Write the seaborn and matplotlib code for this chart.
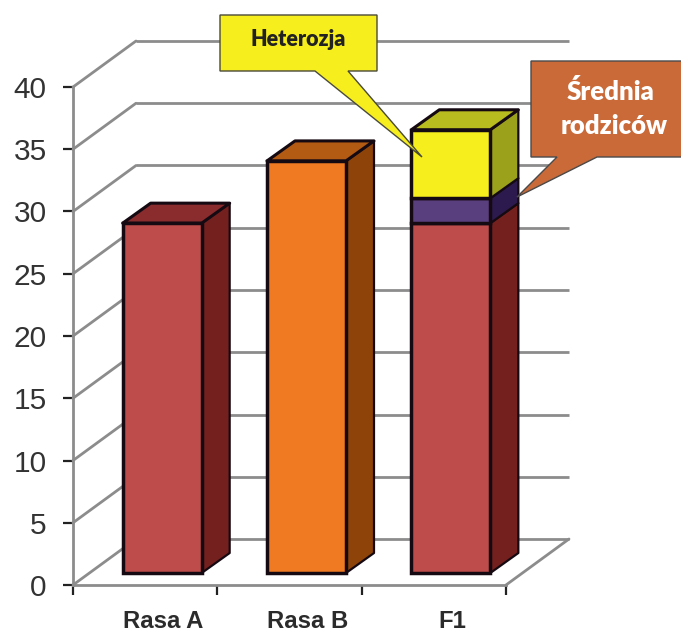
import numpy as np
import matplotlib
matplotlib.use("Agg")
import matplotlib.pyplot as plt
import matplotlib.transforms as mtrans
from matplotlib.patches import Polygon
import seaborn as sns

categories = ["Rasa A", "Rasa B", "F1"]
base_values = [28.1, 33.1, 28.1]
mean_category = ["F1"]
mean_extra = [2.0]
hetero_category = ["F1"]
hetero_extra = [5.5]
y_ticks = [0, 5, 10, 15, 20, 25, 30, 35, 40]

W, H = 681, 633
AX_L, AX_R, AX_TOP, AX_BOT = 73, 506, 87, 585
PX_X = 3 / (AX_R - AX_L)
PX_Y = 40 / (AX_BOT - AX_TOP)

GRID = "#8c8c8c"
EDGE = "#160a12"
# front, side, top
RED = ("#BD4C4B", "#74201F", "#8A2C2E")
ORANGE = ("#EF7A22", "#8E4409", "#B35B12")
PURPLE = ("#5A3F7E", "#2C1A4E", "#2C1A4E")
YELLOW = ("#F7EE1E", "#9BA11B", "#B9BC1E")

sns.set_theme(style="white")
plt.rcParams["font.family"] = ["Liberation Sans", "DejaVu Sans"]

fig = plt.figure(figsize=(W / 100, H / 100), dpi=100)
ax = fig.add_axes([AX_L / W, 1 - AX_BOT / H, (AX_R - AX_L) / W, (AX_BOT - AX_TOP) / H])

bar_kws = dict(width=79 * PX_X, errorbar=None, saturation=1, edgecolor=EDGE,
               linewidth=2.5, legend=False, order=categories, zorder=3)


def add_bars(x, y, faces, bottom=0):
    n = len(ax.patches)
    sns.barplot(x=x, y=y, hue=x, palette=dict(zip(x, [f[0] for f in faces])),
                bottom=bottom, ax=ax, **bar_kws)
    return list(zip(ax.patches[n:], faces))


segments = add_bars(categories, base_values, [RED, ORANGE, RED])
segments += add_bars(mean_category, mean_extra, [PURPLE], bottom=base_values[2])
segments += add_bars(hetero_category, hetero_extra, [YELLOW],
                     bottom=base_values[2] + mean_extra[0])

ax.set_xlim(-0.5, 2.5)
ax.set_ylim(0, 40)

# everything in the 3d look is the flat chart moved by some pixels
bar_shift = mtrans.offset_copy(ax.transData, fig, x=17, y=12, units="dots")
wall_shift = mtrans.offset_copy(ax.transData, fig, x=63, y=46, units="dots")

dx, dy = 28 * PX_X, 20 * PX_Y
for bar, (front, side, top) in segments:
    x0, x1 = bar.get_x(), bar.get_x() + bar.get_width()
    y0, y1 = bar.get_y(), bar.get_y() + bar.get_height()
    bar.set_transform(bar_shift)
    ax.add_patch(Polygon([(x1, y0), (x1 + dx, y0 + dy), (x1 + dx, y1 + dy), (x1, y1)],
                         closed=True, fc=side, ec=EDGE, lw=1.6, zorder=2.9,
                         transform=bar_shift, clip_on=False, joinstyle="round"))
    if y1 >= max(base_values[:2]) or bar.get_x() < 1.5:
        ax.add_patch(Polygon([(x0, y1), (x0 + dx, y1 + dy), (x1 + dx, y1 + dy), (x1, y1)],
                             closed=True, fc=top, ec=EDGE, lw=2.2, zorder=2.9,
                             transform=bar_shift, clip_on=False, joinstyle="round"))

# back wall lines and the side wall diagonals
for v in y_ticks:
    ax.plot([-0.5, 2.5], [v, v], color=GRID, lw=2, transform=wall_shift,
            clip_on=False, zorder=1, solid_capstyle="butt")
    p0 = ax.transData.transform((-0.5, v))
    p1 = wall_shift.transform((-0.5, v))
    q0, q1 = ax.transData.inverted().transform([p0, p1])
    ax.plot([q0[0], q1[0]], [q0[1], q1[1]], color=GRID, lw=2, clip_on=False, zorder=1)
p0 = ax.transData.transform((2.5, 0))
p1 = wall_shift.transform((2.5, 0))
q0, q1 = ax.transData.inverted().transform([p0, p1])
ax.plot([q0[0], q1[0]], [q0[1], q1[1]], color=GRID, lw=2, clip_on=False, zorder=1)

sns.despine(ax=ax, top=True, right=True)
for s in ["left", "bottom"]:
    ax.spines[s].set_color(GRID)
    ax.spines[s].set_linewidth(2)

ax.set_yticks(y_ticks)
ax.set_xticks([-0.5, 0.5, 1.5, 2.5])
ax.set_xticklabels([])
ax.set_xlabel("")
ax.set_ylabel("")
ax.tick_params(axis="y", left=True, length=7, width=1.6, color="#222222",
               labelsize=21.5, labelcolor="#333333", pad=12)
ax.tick_params(axis="x", bottom=True, length=7, width=1.6, color="#222222")

for i, name in enumerate(categories):
    ax.annotate(name, xy=(i, 0), xytext=(18, -37), textcoords="offset pixels",
                ha="center", va="center", fontsize=17.2, fontweight="bold",
                color="#2b2b2b", annotation_clip=False)

# callouts sit on top of the chart in image pixels
over = fig.add_axes([0, 0, 1, 1], facecolor="none")
over.set_xlim(0, W)
over.set_ylim(H, 0)
over.axis("off")

over.add_patch(Polygon([(220, 15), (377, 15), (377, 71), (348, 71), (422, 157), (315, 71), (220, 71)],
                       closed=True, fc="#F7EE1E", ec="#4a4a3a", lw=1))
over.text(298.5, 39, "Heterozja", ha="center", va="center", fontsize=15.5, fontweight="heavy",
          family="Lato", color="#222222")
over.add_patch(Polygon([(531, 61), (690, 61), (690, 157), (597, 157), (517, 197), (557, 157), (531, 157)],
                       closed=True, fc="#C96A38", ec="#4a4a4a", lw=1))
over.text(611, 91, "Średnia", ha="center", va="center", fontsize=18.5, fontweight="heavy",
          family="Lato", color="white")
over.text(614, 126, "rodziców", ha="center", va="center", fontsize=18.5, fontweight="heavy",
          family="Lato", color="white")

fig.savefig("out.png", dpi=100)
